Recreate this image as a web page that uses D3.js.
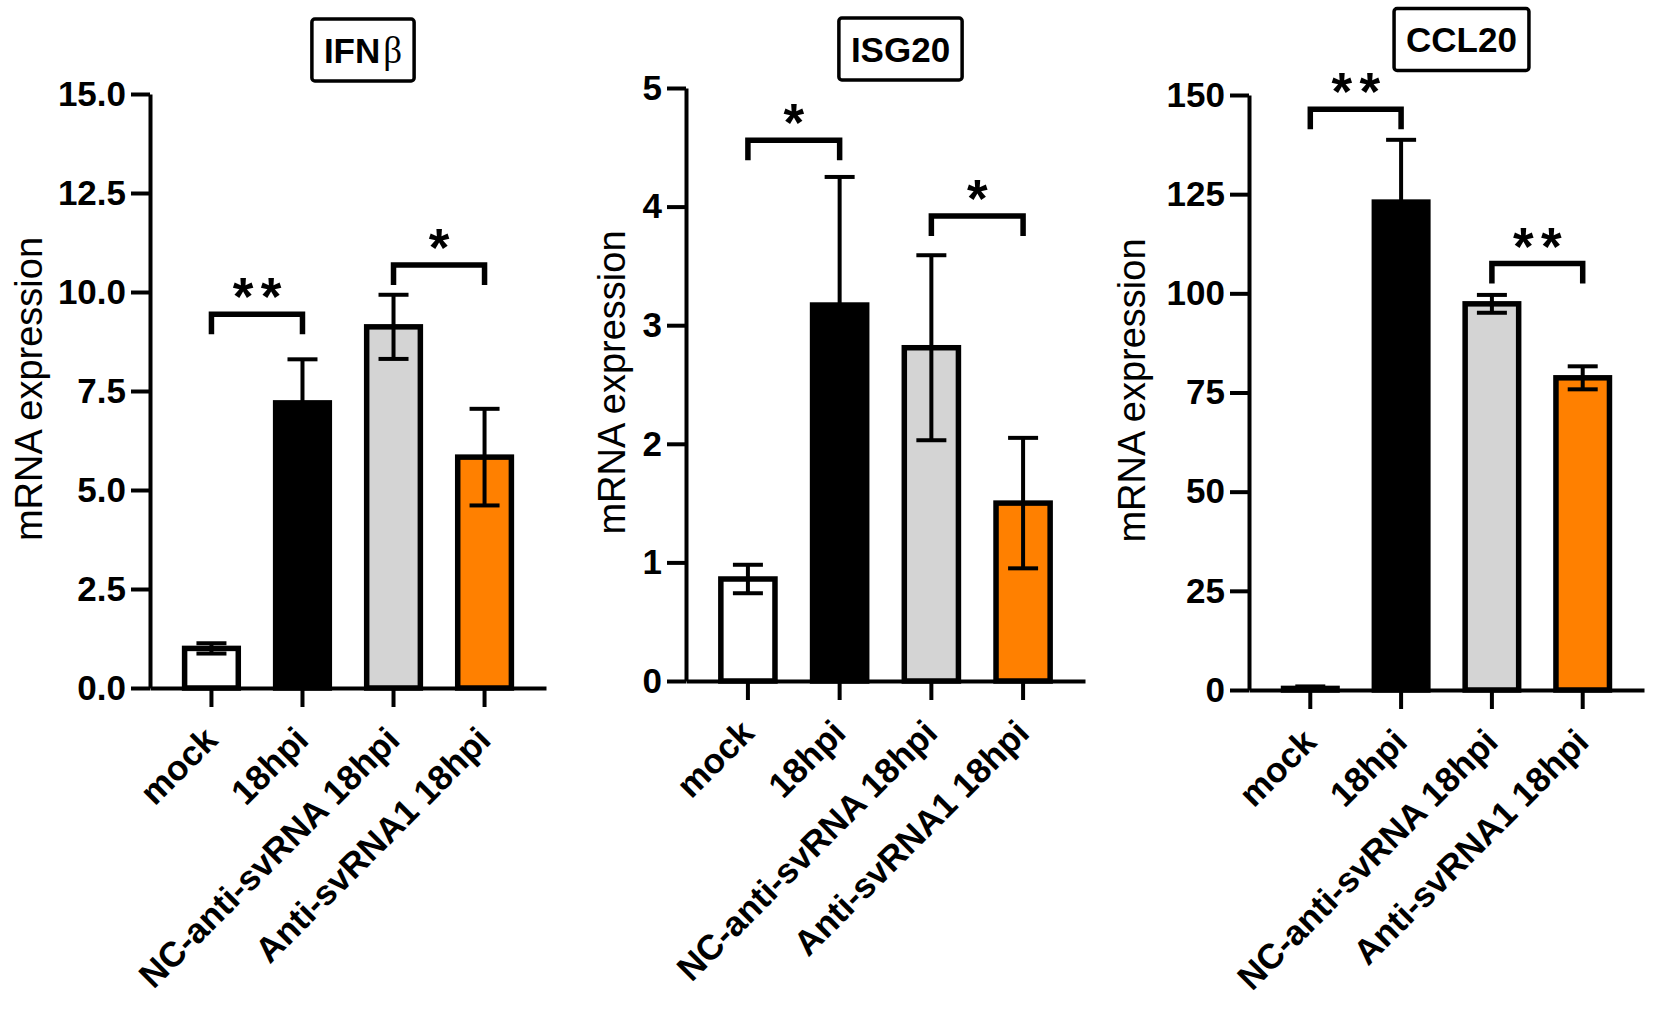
<!DOCTYPE html>
<html>
<head>
<meta charset="utf-8">
<script src="https://cdn.jsdelivr.net/npm/d3@7"></script>
<style>
  body { margin: 0; background: #fff; }
  svg text { font-family: "Liberation Sans", Arial, sans-serif; fill: #000; }
</style>
</head>
<body>
<svg id="chart" width="1654" height="1010"></svg>
<script>
// Groups shared by all three panels
const categories = ['mock', '18hpi', 'NC-anti-svRNA 18hpi', 'Anti-svRNA1 18hpi'];
const barColors = ['#ffffff', '#000000', '#d4d4d4', '#ff8000'];

// IFN-beta
const ifnbMeans = [1.0, 7.2, 9.12, 5.83];
const ifnbErrors = [0.13, 1.1, 0.81, 1.22];
const ifnbTicks = [0, 2.5, 5, 7.5, 10, 12.5, 15];
const ifnbSig = [
  {from: 0, to: 1, y: 9.44, label: '**'},
  {from: 2, to: 3, y: 10.68, label: '*'}
];

// ISG20
const isg20Means = [0.86, 3.17, 2.81, 1.5];
const isg20Errors = [0.12, 1.08, 0.78, 0.55];
const isg20Ticks = [0, 1, 2, 3, 4, 5];
const isg20Sig = [
  {from: 0, to: 1, y: 4.56, label: '*'},
  {from: 2, to: 3, y: 3.92, label: '*'}
];

// CCL20
const ccl20Means = [0.4, 123, 97.35, 78.7];
const ccl20Errors = [0.5, 15.7, 2.25, 2.9];
const ccl20Ticks = [0, 25, 50, 75, 100, 125, 150];
const ccl20Sig = [
  {from: 0, to: 1, y: 146.4, label: '**'},
  {from: 2, to: 3, y: 107.5, label: '**'}
];

// panel placement in the 1654x1010 canvas
const panels = [
  {title: 'IFN', greek: 'β', means: ifnbMeans, errors: ifnbErrors, ticks: ifnbTicks, sig: ifnbSig,
   fmt: '.1f', left: 150, right: 546, top: 94, bottom: 688, titleY: 50, labelX: 32},
  {title: 'ISG20', greek: '', means: isg20Means, errors: isg20Errors, ticks: isg20Ticks, sig: isg20Sig,
   fmt: 'd', left: 686, right: 1085, top: 88, bottom: 681, titleY: 49, labelX: 615},
  {title: 'CCL20', greek: '', means: ccl20Means, errors: ccl20Errors, ticks: ccl20Ticks, sig: ccl20Sig,
   fmt: 'd', left: 1249, right: 1644, top: 95, bottom: 690, titleY: 39.5, labelX: 1135}
];

const svg = d3.select('#chart');
svg.append('rect').attr('width', 1654).attr('height', 1010).attr('fill', '#fff');

const barStroke = 5.5;
const capHalf = 15;

panels.forEach(p => {
  const g = svg.append('g');

  const x = d3.scaleBand()
    .domain(categories)
    .range([p.left, p.right])
    .paddingInner(0.35)
    .paddingOuter(0.35);

  const y = d3.scaleLinear()
    .domain([0, p.ticks[p.ticks.length - 1]])
    .range([p.bottom, p.top]);

  const cx = i => x(categories[i]) + x.bandwidth() / 2;

  // bars
  g.selectAll('rect.bar')
    .data(p.means)
    .join('rect')
    .attr('class', 'bar')
    .attr('x', (d, i) => x(categories[i]) + barStroke / 2)
    .attr('width', x.bandwidth() - barStroke)
    .attr('y', d => y(d))
    .attr('height', d => p.bottom - y(d))
    .attr('fill', (d, i) => barColors[i])
    .attr('stroke', '#000')
    .attr('stroke-width', barStroke);

  // error bars (mean +/- SEM)
  const err = g.selectAll('g.err')
    .data(p.means.map((m, i) => ({m, e: p.errors[i], i})))
    .join('g')
    .attr('class', 'err')
    .attr('stroke', '#000')
    .attr('stroke-width', 4);
  err.append('line')
    .attr('x1', d => cx(d.i)).attr('x2', d => cx(d.i))
    .attr('y1', d => y(Math.max(0, d.m - d.e))).attr('y2', d => y(d.m + d.e));
  err.append('line')
    .attr('x1', d => cx(d.i) - capHalf).attr('x2', d => cx(d.i) + capHalf)
    .attr('y1', d => y(d.m + d.e)).attr('y2', d => y(d.m + d.e));
  err.filter(d => d.m - d.e > 0).append('line')
    .attr('x1', d => cx(d.i) - capHalf).attr('x2', d => cx(d.i) + capHalf)
    .attr('y1', d => y(d.m - d.e)).attr('y2', d => y(d.m - d.e));

  // y axis
  const yAxis = g.append('g')
    .attr('transform', 'translate(' + p.left + ',0)')
    .call(d3.axisLeft(y).tickValues(p.ticks).tickFormat(d3.format(p.fmt))
      .tickSize(19).tickSizeOuter(0).tickPadding(5));
  yAxis.select('.domain').attr('stroke-width', 4);
  yAxis.selectAll('.tick line').attr('stroke-width', 4);
  yAxis.selectAll('.tick text')
    .attr('font-size', 35).attr('font-weight', 'bold')
    .attr('font-family', '"Liberation Sans", Arial, sans-serif');

  // x axis
  const xAxis = g.append('g')
    .attr('transform', 'translate(0,' + p.bottom + ')')
    .call(d3.axisBottom(x).tickSize(19).tickSizeOuter(0));
  xAxis.select('.domain').attr('stroke-width', 4);
  xAxis.selectAll('.tick line').attr('stroke-width', 4);
  xAxis.selectAll('.tick text')
    .attr('y', null).attr('dy', null)
    .attr('transform', 'translate(8,54) rotate(-45)')
    .attr('text-anchor', 'end')
    .attr('font-size', 35).attr('font-weight', 'bold')
    .attr('font-family', '"Liberation Sans", Arial, sans-serif');

  // y label
  g.append('text')
    .attr('transform', 'translate(' + p.labelX + ',' + ((p.top + p.bottom) / 2 - 2) + ') rotate(-90)')
    .attr('text-anchor', 'middle')
    .attr('dy', '0.27em')
    .attr('font-size', 38)
    .text('mRNA expression');

  // significance brackets
  p.sig.forEach(s => {
    const x1 = cx(s.from), x2 = cx(s.to), ly = y(s.y);
    g.append('path')
      .attr('d', 'M' + x1 + ',' + (ly + 20) + 'V' + ly + 'H' + x2 + 'V' + (ly + 20))
      .attr('fill', 'none')
      .attr('stroke', '#000')
      .attr('stroke-width', 5.5);
    const mid = (x1 + x2) / 2;
    const n = s.label.length;
    d3.range(n).forEach(k => {
      g.append('text')
        .attr('x', mid + 28 * (k - (n - 1) / 2))
        .attr('y', ly + 1)
        .attr('text-anchor', 'middle')
        .attr('font-size', 53)
        .attr('font-weight', 'bold')
        .text('*');
    });
  });

  // boxed title
  const tcx = (p.left + p.right) / 2 + 15;
  const title = g.append('text')
    .attr('x', tcx)
    .attr('y', p.titleY)
    .attr('dy', '0.36em')
    .attr('text-anchor', 'middle')
    .attr('font-size', 35)
    .attr('font-weight', 'bold');
  title.append('tspan').text(p.title);
  if (p.greek) {
    title.append('tspan')
      .attr('dx', 3)
      .attr('font-family', '"Liberation Serif", "DejaVu Serif", serif')
      .attr('font-weight', 'normal')
      .attr('font-size', 37)
      .text(p.greek);
  }
  const bb = title.node().getBBox();
  g.insert('rect', () => title.node())
    .attr('x', tcx - bb.width / 2 - 12)
    .attr('y', p.titleY - 31)
    .attr('width', bb.width + 24)
    .attr('height', 62)
    .attr('rx', 3)
    .attr('fill', '#fff')
    .attr('stroke', '#000')
    .attr('stroke-width', 3.5);
});
</script>
</body>
</html>
